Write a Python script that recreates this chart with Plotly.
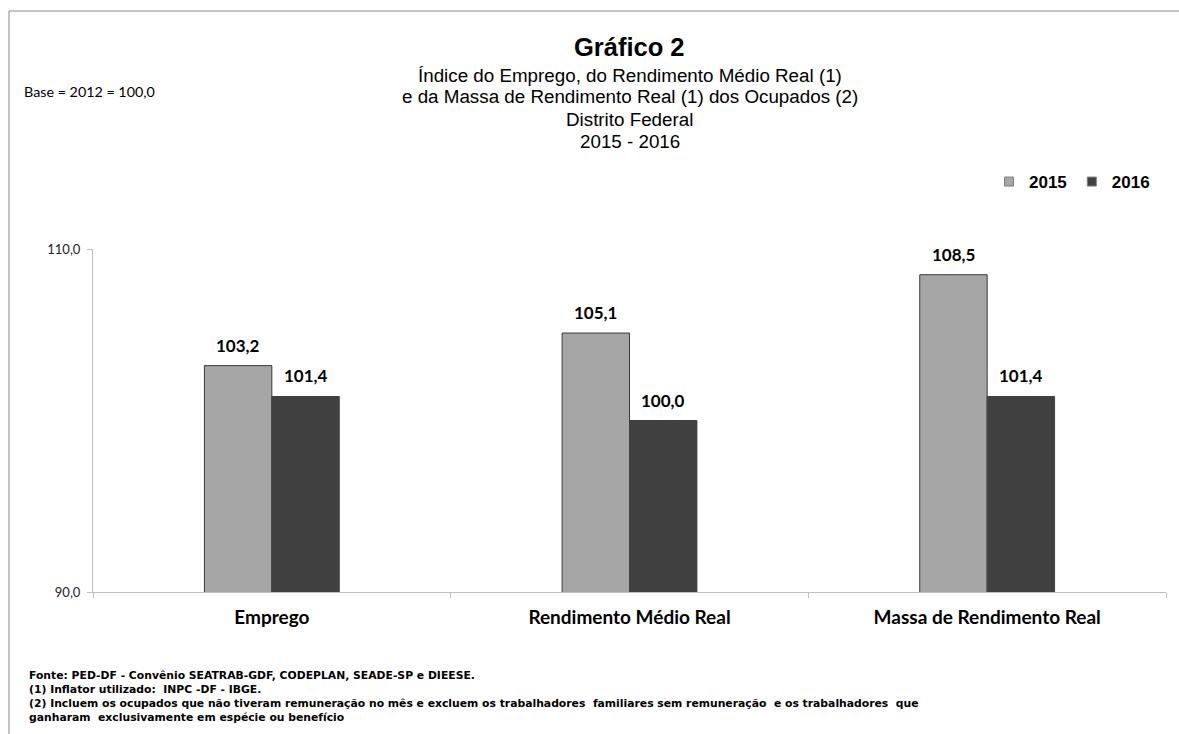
import plotly.graph_objects as go

categories = ["Emprego", "Rendimento Médio Real", "Massa de Rendimento Real"]
values_2015 = [103.2, 105.1, 108.5]
values_2016 = [101.4, 100.0, 101.4]
series_names = ["2015", "2016"]
y_ticks = [90, 110]

W, H = 1179, 734
L, R, T, B = 93, 13, 249, 142
pw = W - L - R
ph = H - T - B
BARGAP = 0.623

def px(x):
    return (x - L) / pw

def py(y):
    return (H - B - y) / ph

colors = ["#A6A6A6", "#404040"]
outlines = ["#3a3a3a", "#404040"]
label_font = dict(family="Lato, Open Sans, sans-serif", size=17, color="#000000")

fig = go.Figure()
for name, vals, col, oc in zip(series_names, [values_2015, values_2016], colors, outlines):
    fig.add_trace(go.Bar(
        x=categories, y=vals, name=name, showlegend=False,
        marker=dict(color=col, line=dict(color=oc, width=1)),
        hoverinfo="x+y",
    ))
# legend entries (small squares like the original)
for name, col in zip(series_names, colors):
    fig.add_trace(go.Scatter(
        x=[None], y=[None], mode="markers", name="<b>" + name + "</b>",
        marker=dict(symbol="square", size=9, color=col, line=dict(color="#7f7f7f", width=1)),
    ))

# data labels above each bar
cat_px = pw / len(categories)
bar_w = cat_px * (1 - BARGAP) / 2
annotations = []
for i, vals in enumerate([values_2015, values_2016]):
    shift = (-0.5 if i == 0 else 0.5) * bar_w
    for c, v in zip(categories, vals):
        annotations.append(dict(
            x=c, y=v, xref="x", yref="y", text="<b>" + f"{v:.1f}".replace(".", ",") + "</b>",
            xshift=shift, yshift=8, showarrow=False, yanchor="bottom", xanchor="center",
            font=label_font,
        ))

title_font = "Liberation Sans, Arial, sans-serif"
head = [
    dict(x=0.5, y=py(47), text="<b>Gráfico 2</b>", font=dict(family=title_font, size=25.5, color="#000")),
    dict(x=0.5, y=py(75), text="Índice do Emprego, do Rendimento Médio Real (1)", font=dict(family=title_font, size=18.8, color="#000")),
    dict(x=0.5, y=py(97), text="e da Massa de Rendimento Real (1) dos Ocupados (2)", font=dict(family=title_font, size=18.8, color="#000")),
    dict(x=0.5, y=py(119), text="Distrito Federal", font=dict(family=title_font, size=18.8, color="#000")),
    dict(x=0.5, y=py(141), text="2015 - 2016", font=dict(family=title_font, size=18.8, color="#000")),
    dict(x=px(22), y=py(91), text="Base = 2012 = 100,0", xanchor="left",
         font=dict(family="Lato, Open Sans, sans-serif", size=14.3, color="#000")),
]
foot_lines = [
    "Fonte: PED-DF - Convênio SEATRAB-GDF, CODEPLAN, SEADE-SP e DIEESE.",
    "(1) Inflator utilizado:  INPC -DF - IBGE.",
    "(2) Incluem os ocupados que não tiveram remuneração no mês e excluem os trabalhadores  familiares sem remuneração  e os trabalhadores  que",
    "ganharam  exclusivamente em espécie ou benefício",
]
head.append(dict(x=px(27), y=py(667), text="<br>".join("<b>" + t + "</b>" for t in foot_lines),
                 xanchor="left", yanchor="top", align="left",
                 font=dict(family="DejaVu Sans, Open Sans, sans-serif", size=10.8, color="#000")))
for a in head:
    a.update(xref="paper", yref="paper", showarrow=False)
    a.setdefault("yanchor", "middle")
    a.setdefault("xanchor", "center")
annotations += head

fig.update_layout(
    width=W, height=H,
    margin=dict(l=L, r=R, t=T, b=B, autoexpand=False),
    paper_bgcolor="white", plot_bgcolor="white",
    separators=",.",
    barmode="group", bargap=BARGAP, bargroupgap=0,
    showlegend=True,
    legend=dict(orientation="h", x=px(1155), xanchor="right", y=py(182), yanchor="middle",
                font=dict(family="Liberation Sans, Arial, sans-serif", size=17, color="#000"),
                itemwidth=30, traceorder="normal", bgcolor="rgba(0,0,0,0)"),
    annotations=annotations,
    shapes=[dict(type="rect", xref="paper", yref="paper", x0=px(9), x1=1.2, y0=-0.6, y1=py(11),
                 line=dict(color="#888888", width=1), fillcolor="rgba(0,0,0,0)", layer="below")],
    xaxis=dict(showline=True, linecolor="#BFBFBF", linewidth=1, ticks="outside", ticklen=5,
               tickcolor="#BFBFBF", tickson="boundaries", showgrid=False,
               tickfont=dict(family="Lato, Open Sans, sans-serif", size=19, color="#000"),
               tickprefix="<b>", ticksuffix="</b>", ticklabelstandoff=8),
    yaxis=dict(range=[90, 110], tickvals=y_ticks, tickformat=".1f", showline=True,
               linecolor="#BFBFBF", linewidth=1, ticks="outside", ticklen=5, tickcolor="#BFBFBF",
               showgrid=False, zeroline=False, ticklabelstandoff=4,
               tickfont=dict(family="Lato, Open Sans, sans-serif", size=13, color="#222")),
)

fig.write_html("out.html", config={"displayModeBar": False},
               post_script="document.body.style.margin='0px';")
